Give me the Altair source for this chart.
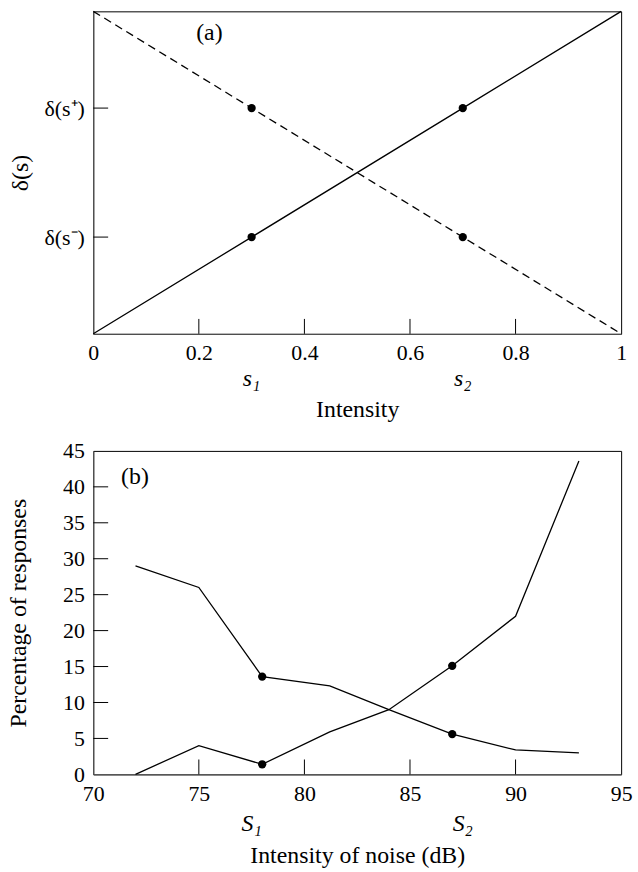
import altair as alt
import pandas as pd

# ---------------- Panel (a) data ----------------
a_intensity = [0.0, 0.3, 0.7, 1.0]
a_rising = [0.0, 0.3, 0.7, 1.0]
a_falling = [1.0, 0.7, 0.3, 0.0]
a_marked_x = [0.3, 0.7]
a_marked_rising = [0.3, 0.7]
a_marked_falling = [0.7, 0.3]
a_xtick_values = [0, 0.2, 0.4, 0.6, 0.8, 1]
a_inner_xticks = [0.2, 0.4, 0.6, 0.8]
a_ytick_values = [0.3, 0.7]
a_ytick_labels = ["δ(s⁻)", "δ(s⁺)"]
a_stim_x = [0.3, 0.7]
a_stim_labels = ["s₁", "s₂"]

# ---------------- Panel (b) data ----------------
b_noise_db = [72, 75, 78, 81.2, 84, 87, 90, 93]
b_falling = [29.0, 26.0, 13.6, 12.3, 9.0, 5.6, 3.4, 3.0]
b_rising = [0.0, 4.0, 1.4, 5.9, 9.0, 15.1, 22.0, 43.6]
b_marked_x = [78, 87]
b_marked_falling = [13.6, 5.6]
b_marked_rising = [1.4, 15.1]
b_xtick_values = [70, 75, 80, 85, 90, 95]
b_inner_xticks = [75, 80, 85, 90]
b_ytick_values = [0, 5, 10, 15, 20, 25, 30, 35, 40, 45]
b_inner_yticks = [5, 10, 15, 20, 25, 30, 35, 40]
b_stim_x = [77.5, 87.5]
b_stim_labels = ["S₁", "S₂"]

W = 532
HA = 325
HB = 326
FONT = "Liberation Serif"
LABEL_SIZE = 22
TITLE_SIZE = 24
TICK_LEN = 15

# ---------------- Panel (a) ----------------
df_a = pd.DataFrame({"x": a_intensity, "rising": a_rising, "falling": a_falling})
df_a_pts = pd.DataFrame({"x": a_marked_x + a_marked_x,
                         "y": a_marked_rising + a_marked_falling})
df_a_xt = pd.DataFrame({"t": a_inner_xticks})
df_a_yt = pd.DataFrame({"t": a_ytick_values})
df_a_stim = pd.DataFrame({"x": a_stim_x, "lab": a_stim_labels})

xa_scale = alt.Scale(domain=[0, 1], nice=False, zero=False)
ya_scale = alt.Scale(domain=[0, 1], nice=False, zero=False)

a_label_expr = "datum.value < 0.5 ? '%s' : '%s'" % (a_ytick_labels[0], a_ytick_labels[1])

xa_axis = alt.Axis(values=a_xtick_values, format="~g", ticks=False, tickSize=0,
                   labelPadding=9, title="Intensity", titleY=76, titleBaseline="middle")
ya_axis = alt.Axis(values=a_ytick_values, labelExpr=a_label_expr, ticks=False,
                   tickSize=0, labelPadding=9, title="δ(s)", titleX=-73,
                   titleY=HA / 2, titleBaseline="middle", titleAlign="center")


def XA(f):
    return alt.X(f, scale=xa_scale, axis=xa_axis, title="Intensity")


def YA(f):
    return alt.Y(f, scale=ya_scale, axis=ya_axis, title="δ(s)")


a_solid = alt.Chart(df_a).mark_line(color="black", strokeWidth=1.3).encode(
    x=XA("x:Q"), y=YA("rising:Q"))
a_dashed = alt.Chart(df_a).mark_line(color="black", strokeWidth=1.3, strokeDash=[8, 5]).encode(
    x=XA("x:Q"), y=YA("falling:Q"))
a_points = alt.Chart(df_a_pts).mark_circle(color="black", size=70, opacity=1).encode(
    x=XA("x:Q"), y=YA("y:Q"))
a_xticks = alt.Chart(df_a_xt).mark_rule(color="black", strokeWidth=1).encode(
    x=XA("t:Q"), y=alt.value(HA - TICK_LEN), y2=alt.value(HA))
a_yticks = alt.Chart(df_a_yt).mark_rule(color="black", strokeWidth=1).encode(
    y=YA("t:Q"), x=alt.value(0), x2=alt.value(TICK_LEN))
a_stim = alt.Chart(df_a_stim).mark_text(font=FONT, fontSize=TITLE_SIZE, fontStyle="italic",
                                        color="black", baseline="middle").encode(
    x=XA("x:Q"), y=alt.value(HA + 46), text="lab:N")
a_tag = alt.Chart(pd.DataFrame({"t": ["(a)"]})).mark_text(
    font=FONT, fontSize=TITLE_SIZE, color="black", baseline="middle").encode(
    x=alt.value(117), y=alt.value(22), text="t:N")

panel_a = alt.layer(a_solid, a_dashed, a_points, a_xticks, a_yticks, a_stim, a_tag).properties(
    width=W, height=HA)

# ---------------- Panel (b) ----------------
df_b = pd.DataFrame({"x": b_noise_db, "falling": b_falling, "rising": b_rising})
df_b_pts = pd.DataFrame({"x": b_marked_x + b_marked_x,
                         "y": b_marked_falling + b_marked_rising})
df_b_xt = pd.DataFrame({"t": b_inner_xticks})
df_b_yt = pd.DataFrame({"t": b_inner_yticks})
df_b_stim = pd.DataFrame({"x": b_stim_x, "lab": b_stim_labels})

xb_scale = alt.Scale(domain=[70, 95], nice=False, zero=False)
yb_scale = alt.Scale(domain=[0, 45], nice=False, zero=False)

xb_axis = alt.Axis(values=b_xtick_values, ticks=False, tickSize=0, labelPadding=9,
                   title="Intensity of noise (dB)", titleY=82, titleBaseline="middle")
yb_axis = alt.Axis(values=b_ytick_values, ticks=False, tickSize=0, labelPadding=9,
                   title="Percentage of responses", titleX=-75, titleY=HB / 2,
                   titleBaseline="middle", titleAlign="center")


def XB(f):
    return alt.X(f, scale=xb_scale, axis=xb_axis, title="Intensity of noise (dB)")


def YB(f):
    return alt.Y(f, scale=yb_scale, axis=yb_axis, title="Percentage of responses")


b_line1 = alt.Chart(df_b).mark_line(color="black", strokeWidth=1.3).encode(
    x=XB("x:Q"), y=YB("falling:Q"))
b_line2 = alt.Chart(df_b).mark_line(color="black", strokeWidth=1.3).encode(
    x=XB("x:Q"), y=YB("rising:Q"))
b_points = alt.Chart(df_b_pts).mark_circle(color="black", size=70, opacity=1).encode(
    x=XB("x:Q"), y=YB("y:Q"))
b_xticks = alt.Chart(df_b_xt).mark_rule(color="black", strokeWidth=1).encode(
    x=XB("t:Q"), y=alt.value(HB - TICK_LEN), y2=alt.value(HB))
b_yticks = alt.Chart(df_b_yt).mark_rule(color="black", strokeWidth=1).encode(
    y=YB("t:Q"), x=alt.value(0), x2=alt.value(TICK_LEN))
b_stim = alt.Chart(df_b_stim).mark_text(font=FONT, fontSize=TITLE_SIZE, fontStyle="italic",
                                        color="black", baseline="middle").encode(
    x=XB("x:Q"), y=alt.value(HB + 50), text="lab:N")
b_tag = alt.Chart(pd.DataFrame({"t": ["(b)"]})).mark_text(
    font=FONT, fontSize=TITLE_SIZE, color="black", baseline="middle").encode(
    x=alt.value(42), y=alt.value(26), text="t:N")

panel_b = alt.layer(b_line1, b_line2, b_points, b_xticks, b_yticks, b_stim, b_tag).properties(
    width=W, height=HB)

chart = alt.vconcat(panel_a, panel_b, spacing=118, bounds="flush").properties(
    padding={"left": 6, "top": 4, "right": 5, "bottom": 5}
).configure_view(
    stroke="black", strokeWidth=1
).configure_axis(
    labelFont=FONT, titleFont=FONT, labelFontSize=LABEL_SIZE, titleFontSize=TITLE_SIZE,
    labelColor="black", titleColor="black", titleFontWeight="normal",
    domainColor="#555555", domainWidth=1, grid=False, labelFlush=False, labelOverlap=False
)

chart.save("out.html", embed_options={"renderer": "svg", "actions": False})
